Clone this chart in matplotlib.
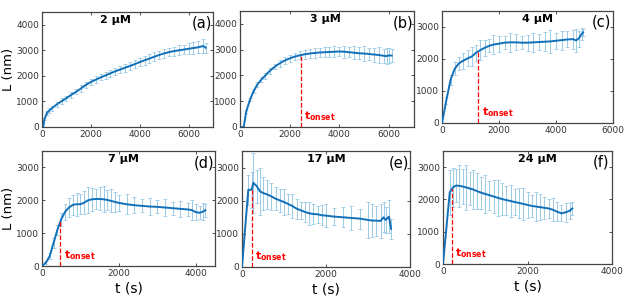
import numpy as np
import matplotlib
matplotlib.use("Agg")
import matplotlib.pyplot as plt
import matplotlib.transforms as mtrans

# ---- data ----
concs = ["2 \u03bcM", "3 \u03bcM", "4 \u03bcM", "7 \u03bcM", "17 \u03bcM", "24 \u03bcM"]
tags = ["(a)", "(b)", "(c)", "(d)", "(e)", "(f)"]

t_a = [50, 100, 200, 300, 400, 600, 800, 1000, 1200, 1400, 1600, 1800, 2000, 2200, 2400, 2600,
       2800, 3000, 3200, 3400, 3600, 3800, 4000, 4200, 4400, 4600, 4800, 5000, 5200, 5400, 5600,
       5800, 6000, 6200, 6400, 6600, 6700]
L_a = [0, 300, 550, 650, 730, 880, 1010, 1130, 1260, 1380, 1510, 1650, 1760, 1850, 1940, 2020,
       2100, 2180, 2250, 2320, 2390, 2460, 2540, 2610, 2680, 2750, 2820, 2880, 2930, 2970, 3000,
       3030, 3060, 3090, 3120, 3170, 3100]
e_a = [0, 40, 80, 90, 100, 90, 110, 100, 120, 100, 130, 110, 120, 140, 120, 130, 150, 140, 130,
       150, 140, 160, 150, 170, 160, 180, 150, 170, 160, 180, 200, 190, 220, 240, 230, 260, 200]

t_b = [0, 150, 250, 400, 550, 700, 850, 1000, 1200, 1400, 1600, 1800, 2000, 2200, 2400, 2600,
       2800, 3000, 3200, 3400, 3600, 3800, 4000, 4200, 4400, 4600, 4800, 5000, 5200, 5400, 5600,
       5800, 5900, 6000, 6100]
L_b = [0, 0, 600, 1050, 1400, 1650, 1830, 1980, 2180, 2340, 2470, 2580, 2660, 2730, 2780, 2820,
       2850, 2870, 2890, 2900, 2910, 2920, 2930, 2920, 2900, 2880, 2860, 2850, 2830, 2810, 2790,
       2760, 2750, 2780, 2770]
e_b = [0, 0, 50, 60, 80, 90, 100, 110, 120, 100, 130, 120, 140, 150, 160, 180, 170, 190, 160,
       200, 180, 210, 190, 230, 200, 260, 240, 280, 250, 270, 300, 260, 310, 280, 250]

t_c = [0, 150, 300, 450, 600, 750, 900, 1050, 1200, 1350, 1500, 1650, 1800, 2000, 2200, 2400,
       2600, 2800, 3000, 3200, 3400, 3600, 3800, 4000, 4200, 4400, 4600, 4700, 4800, 4900, 4950]
L_c = [0, 700, 1350, 1700, 1870, 1950, 2020, 2080, 2200, 2280, 2350, 2410, 2450, 2480, 2510,
       2520, 2520, 2510, 2510, 2520, 2530, 2540, 2550, 2570, 2590, 2610, 2620, 2580, 2640, 2780, 2830]
e_c = [0, 100, 150, 200, 200, 250, 250, 300, 250, 300, 250, 200, 300, 250, 200, 300, 250, 200,
       250, 300, 250, 300, 350, 250, 300, 250, 300, 350, 250, 200, 100]

t_d = [0, 100, 200, 300, 400, 500, 600, 700, 800, 900, 1000, 1100, 1200, 1300, 1400, 1500, 1600,
       1700, 1800, 1900, 2000, 2200, 2400, 2600, 2800, 3000, 3200, 3400, 3600, 3800, 3900, 4000,
       4100, 4200, 4250]
L_d = [0, 100, 300, 700, 1100, 1420, 1650, 1780, 1860, 1880, 1880, 1930, 2000, 2030, 2040, 2040,
       2030, 2010, 1980, 1950, 1920, 1880, 1850, 1830, 1810, 1800, 1780, 1760, 1740, 1720, 1700,
       1640, 1620, 1660, 1700]
e_d = [0, 50, 100, 150, 150, 200, 250, 300, 300, 350, 300, 350, 400, 350, 300, 350, 400, 300, 350,
       300, 250, 300, 250, 200, 250, 200, 250, 200, 250, 200, 300, 250, 200, 250, 200]

t_e = [0, 150, 230, 270, 350, 430, 510, 600, 700, 800, 900, 1000, 1100, 1200, 1300, 1400, 1500,
       1600, 1700, 1800, 1900, 2000, 2200, 2400, 2600, 2800, 3000, 3100, 3200, 3300, 3370, 3420,
       3500, 3550]
L_e = [0, 2330, 2330, 2540, 2440, 2280, 2230, 2190, 2130, 2060, 2010, 1960, 1900, 1840, 1760,
       1710, 1660, 1620, 1600, 1590, 1560, 1550, 1520, 1500, 1480, 1460, 1420, 1400, 1400, 1390,
       1500, 1420, 1520, 1150]
e_e = [0, 450, 550, 900, 500, 700, 500, 450, 400, 350, 350, 400, 300, 350, 300, 250, 300, 350,
       300, 250, 300, 350, 250, 300, 350, 300, 550, 500, 450, 500, 450, 400, 500, 300]

t_f = [0, 160, 235, 310, 390, 470, 550, 630, 710, 800, 900, 1000, 1100, 1200, 1300, 1400, 1500,
       1600, 1700, 1800, 1900, 2000, 2100, 2200, 2300, 2400, 2500, 2600, 2700, 2800, 2900, 3000, 3060]
L_f = [0, 2220, 2375, 2430, 2420, 2400, 2370, 2340, 2310, 2260, 2210, 2170, 2130, 2090, 2050,
       2010, 1980, 1950, 1920, 1890, 1860, 1830, 1800, 1780, 1760, 1740, 1720, 1680, 1620, 1570,
       1600, 1650, 1720]
e_f = [0, 700, 600, 500, 650, 550, 700, 500, 600, 550, 500, 600, 450, 500, 550, 500, 450, 500,
       400, 450, 500, 400, 350, 450, 400, 350, 300, 350, 300, 250, 300, 250, 200]

t_onset = [None, 2450, 1270, 480, 230, 210]

xmax = [7000, 7000, 6000, 4500, 4000, 4000]
ymax = [4500, 4500, 3500, 3500, 3500, 3500]
xticks = [[0, 2000, 4000, 6000]] * 3 + [[0, 2000, 4000]] * 3
yticks = [[0, 1000, 2000, 3000, 4000]] * 2 + [[0, 1000, 2000, 3000]] * 4

series = [(t_a, L_a, e_a), (t_b, L_b, e_b), (t_c, L_c, e_c),
          (t_d, L_d, e_d), (t_e, L_e, e_e), (t_f, L_f, e_f)]

# ---- layout (pixel boxes from the reference, 624x301) ----
W, H = 624, 301
boxes = [(42, 12, 213, 127), (240, 11, 414, 127), (442, 11, 613, 123),
         (42, 151, 215, 266), (242, 151, 410, 267), (443, 151, 612, 264)]
title_x = [0.43, 0.49, 0.56, 0.47, 0.50, 0.56]

line_col = "#1270b8"
err_col = "#8cc2e2"

fig = plt.figure(figsize=(W / 100, H / 100), dpi=100)

for i, (t, L, e) in enumerate(series):
    x0, y0, x1, y1 = boxes[i]
    ax = fig.add_axes([x0 / W, (H - y1) / H, (x1 - x0) / W, (y1 - y0) / H])
    ax.errorbar(t, L, yerr=e, fmt="none", ecolor=err_col, elinewidth=0.6,
                capsize=1.5, capthick=0.5, zorder=2)
    ax.plot(t, L, color=line_col, lw=1.4, zorder=3)

    if t_onset[i] is not None:
        top = np.interp(t_onset[i], t, L)
        ax.plot([t_onset[i], t_onset[i]], [0, top], color="red", ls="--", lw=0.9, zorder=4)
        tr = mtrans.blended_transform_factory(ax.transData, ax.transAxes)
        ax.text(t_onset[i] + xmax[i] * 0.02, 0.035, r"$\mathbf{t}_{\mathbf{onset}}$",
                transform=tr, color="red", fontsize=8, ha="left", va="bottom")

    ax.set_xlim(0, xmax[i])
    ax.set_ylim(0, ymax[i])
    ax.set_xticks(xticks[i])
    ax.set_yticks(yticks[i])
    ax.tick_params(direction="in", top=True, right=True, length=2.5, width=0.6,
                   labelsize=6.5, colors="#333333", pad=2)
    for sp in ax.spines.values():
        sp.set_linewidth(0.9)
        sp.set_color("#444444")

    ax.text(title_x[i], 0.93, concs[i], transform=ax.transAxes, ha="center", va="center",
            fontsize=8, fontweight="bold")
    ax.text(0.935, 0.9, tags[i], transform=ax.transAxes, ha="center", va="center", fontsize=10.5)

    if i in (0, 3):
        ax.set_ylabel("L (nm)", fontsize=9.5, labelpad=1)
    if i >= 3:
        ax.set_xlabel("t (s)", fontsize=10, labelpad=3)

fig.savefig("out.png", dpi=100)
